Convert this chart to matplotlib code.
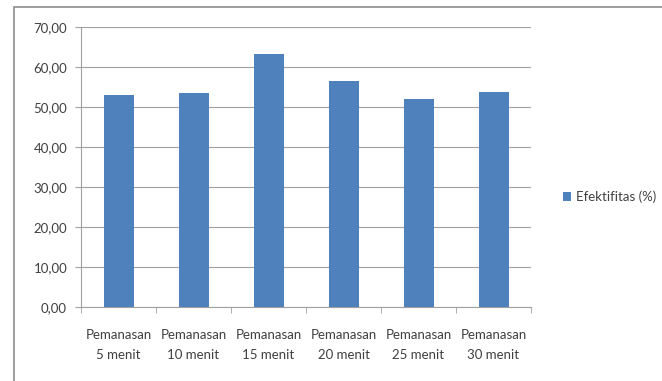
import matplotlib.pyplot as plt
from matplotlib.patches import Rectangle
from matplotlib.ticker import FuncFormatter

# data
categories = ['Pemanasan\n5 menit', 'Pemanasan\n10 menit', 'Pemanasan\n15 menit',
              'Pemanasan\n20 menit', 'Pemanasan\n25 menit', 'Pemanasan\n30 menit']
efektifitas = [53.0, 53.4, 63.3, 56.4, 51.9, 53.8]
series_name = 'Efektifitas (%)'

plt.rcParams['font.family'] = ['Lato', 'DejaVu Sans']

fig = plt.figure(figsize=(6.62, 3.81), dpi=100)

# outer chart frame (only top and left edges are visible in the crop)
W, H = 662, 381
frame = Rectangle((14 / W, -0.2), 1.3, 1.2 - 7 / H, transform=fig.transFigure,
                  fill=False, edgecolor='#8c8c8c', linewidth=1.2)
fig.patches.append(frame)

ax = fig.add_axes([81 / W, 1 - 307 / H, 450 / W, 280 / H])
x = range(len(categories))
ax.bar(x, efektifitas, width=0.4, color='#4F81BD', label=series_name, zorder=3)

ax.set_xlim(-0.5, len(categories) - 0.5)
ax.set_ylim(0, 70)
ax.set_yticks(range(0, 71, 10))
ax.yaxis.set_major_formatter(FuncFormatter(lambda v, p: f'{v:.2f}'.replace('.', ',')))
ax.grid(axis='y', color='#a0a0a0', linewidth=0.8, zorder=0)

ax.set_xticks(list(x))
ax.set_xticklabels(categories, fontsize=9.5, color='#404040', linespacing=1.75)
ax.set_xticks([i - 0.5 for i in range(len(categories) + 1)], minor=True)
ax.tick_params(axis='x', which='major', length=0, pad=16)
ax.tick_params(axis='x', which='minor', length=4, color='#a0a0a0')
ax.tick_params(axis='y', length=4, color='#a0a0a0', labelsize=9.5, labelcolor='#404040', pad=6)

for side in ['top', 'right']:
    ax.spines[side].set_visible(False)
for side in ['left', 'bottom']:
    ax.spines[side].set_color('#a0a0a0')
    ax.spines[side].set_linewidth(0.8)

ax.legend(loc='center left', bbox_to_anchor=(1.045, 0.393), frameon=False,
          fontsize=9.5, handlelength=0.6, handleheight=0.6, handletextpad=0.4,
          labelcolor='#404040')

plt.savefig('out.png', dpi=100)
